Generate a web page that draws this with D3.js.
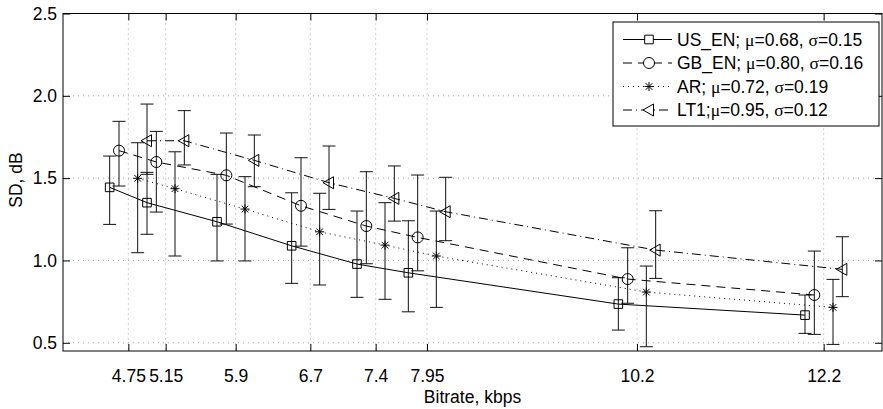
<!DOCTYPE html>
<html lang="en">
  <head>
    <meta charset="UTF-8" />
    <title>SD vs bitrate</title>
    <script src="https://d3js.org/d3.v7.min.js"></script>
    <style>
      body { margin: 0; background: #fff; }
      svg { display: block; font-family: "Liberation Sans", Arial, sans-serif; }
    </style>
  </head>
  <body>
    <svg width="883" height="409"></svg>
    <script>
      // bitrates (kbps) and the y ticks
      let bitrates = [4.75, 5.15, 5.9, 6.7, 7.4, 7.95, 10.2, 12.2];
      let yTicks = [0.5, 1.0, 1.5, 2.0, 2.5];

      // mean SD per bitrate, with lower / upper ends of the error bars
      let usEn = [1.444, 1.351, 1.235, 1.089, 0.978, 0.925, 0.735, 0.668];
      let usEnLo = [1.219, 1.159, 0.997, 0.861, 0.776, 0.688, 0.577, 0.557];
      let usEnHi = [1.634, 1.535, 1.523, 1.411, 1.3, 1.241, 0.895, 0.79];

      let gbEn = [1.667, 1.598, 1.517, 1.332, 1.209, 1.14, 0.887, 0.79];
      let gbEnLo = [1.452, 1.294, 1.221, 1.087, 0.98, 0.937, 0.74, 0.551];
      let gbEnHi = [1.845, 1.784, 1.774, 1.624, 1.539, 1.519, 1.077, 1.057];

      let ar = [1.499, 1.436, 1.312, 1.174, 1.093, 1.027, 0.808, 0.715];
      let arLo = [1.047, 1.027, 0.997, 0.851, 0.764, 0.715, 0.476, 0.49];
      let arHi = [1.715, 1.66, 1.509, 1.408, 1.351, 1.3, 0.966, 0.885];

      let lt1 = [1.727, 1.727, 1.608, 1.472, 1.377, 1.296, 1.063, 0.946];
      let lt1Lo = [1.523, 1.58, 1.448, 1.31, 1.239, 1.12, 0.891, 0.78];
      let lt1Hi = [1.95, 1.91, 1.762, 1.695, 1.574, 1.505, 1.302, 1.144];

      // legend text: name, mu, sigma
      let names = ["US_EN; ", "GB_EN; ", "AR; ", "LT1;"];
      let mus = ["0.68", "0.80", "0.72", "0.95"];
      let sigmas = ["0.15", "0.16", "0.19", "0.12"];

      let svg = d3.select("svg");

      let x = d3.scaleLinear().domain([4.05, 12.825]).range([63, 882]);
      let y = d3.scaleLinear().domain([0.45, 2.5]).range([351, 13.5]);

      // series styling (offset keeps the error bars apart along x)
      let series = [
        { v: usEn, lo: usEnLo, hi: usEnHi, dx: -0.2, dash: null, marker: "square" },
        { v: gbEn, lo: gbEnLo, hi: gbEnHi, dx: -0.1, dash: "9,6", marker: "circle" },
        { v: ar, lo: arLo, hi: arHi, dx: 0.1, dash: "1,4", marker: "star" },
        { v: lt1, lo: lt1Lo, hi: lt1Hi, dx: 0.2, dash: "9,4,1,4", marker: "tri" },
      ];

      let markerPath = {
        square: "M-4.3,-4.3H4.3V4.3H-4.3Z",
        circle: d3.symbol().type(d3.symbolCircle).size(Math.PI * 5.5 * 5.5)(),
        star: "M-4.5,0H4.5M0,-4.5V4.5M-3.3,-3.3L3.3,3.3M-3.3,3.3L3.3,-3.3",
        tri: "M-6,0L4.5,-6L4.5,6Z",
      };

      // grid
      let grid = svg.append("g").attr("stroke", "#888").attr("stroke-width", 0.8)
        .attr("stroke-dasharray", "1,4");
      grid.selectAll("line.gx").data(bitrates).enter().append("line")
        .attr("x1", (d) => x(d)).attr("x2", (d) => x(d))
        .attr("y1", y.range()[1]).attr("y2", y.range()[0]);
      grid.selectAll("line.gy").data(yTicks.slice(0, -1)).enter().append("line")
        .attr("y1", (d) => y(d)).attr("y2", (d) => y(d))
        .attr("x1", x.range()[0]).attr("x2", x.range()[1]);

      // axes (inside ticks on all four sides)
      let fmt = d3.format(".1f");
      let ax = svg.append("g").attr("transform", `translate(0,${y.range()[0]})`)
        .call(d3.axisBottom(x).tickValues(bitrates).tickSize(-7).tickPadding(19)
          .tickFormat((d) => d));
      let ay = svg.append("g").attr("transform", `translate(${x.range()[0]},0)`)
        .call(d3.axisLeft(y).tickValues(yTicks).tickSize(-7).tickPadding(6).tickFormat(fmt));
      let at = svg.append("g").attr("transform", `translate(0,${y.range()[1]})`)
        .call(d3.axisTop(x).tickValues(bitrates).tickSize(-7).tickFormat(""));
      let ar2 = svg.append("g").attr("transform", `translate(${x.range()[1]},0)`)
        .call(d3.axisRight(y).tickValues(yTicks).tickSize(-7).tickFormat(""));
      [ax, ay, at, ar2].forEach((g) => {
        g.select(".domain").remove();
        g.selectAll("text").attr("font-size", 17.5).attr("fill", "#000")
          .attr("font-family", "Liberation Sans, Arial, sans-serif");
        g.selectAll("line").attr("stroke", "#000");
      });
      svg.append("rect")
        .attr("x", x.range()[0]).attr("y", y.range()[1])
        .attr("width", x.range()[1] - x.range()[0])
        .attr("height", y.range()[0] - y.range()[1])
        .attr("fill", "none").attr("stroke", "#000").attr("stroke-width", 1);

      // data
      let line = d3.line().x((d) => x(d[0])).y((d) => y(d[1]));
      series.forEach((s) => {
        let g = svg.append("g");
        let pts = bitrates.map((b, i) => [b + s.dx, s.v[i], s.lo[i], s.hi[i]]);
        g.append("path").datum(pts).attr("d", line)
          .attr("fill", "none").attr("stroke", "#000").attr("stroke-width", 1)
          .attr("stroke-dasharray", s.dash);
        let eb = g.selectAll("g.eb").data(pts).enter().append("g")
          .attr("stroke", "#111").attr("stroke-width", 1).attr("fill", "none");
        eb.append("line").attr("x1", (d) => x(d[0])).attr("x2", (d) => x(d[0]))
          .attr("y1", (d) => y(d[2])).attr("y2", (d) => y(d[3]));
        eb.append("line").attr("x1", (d) => x(d[0]) - 6.5).attr("x2", (d) => x(d[0]) + 6.5)
          .attr("y1", (d) => y(d[2])).attr("y2", (d) => y(d[2]));
        eb.append("line").attr("x1", (d) => x(d[0]) - 6.5).attr("x2", (d) => x(d[0]) + 6.5)
          .attr("y1", (d) => y(d[3])).attr("y2", (d) => y(d[3]));
        g.selectAll("path.m").data(pts).enter().append("path")
          .attr("transform", (d) => `translate(${x(d[0])},${y(d[1])})`)
          .attr("d", markerPath[s.marker])
          .attr("fill", "none").attr("stroke", "#000").attr("stroke-width", 1);
      });

      // axis labels
      svg.append("text").attr("x", (x.range()[0] + x.range()[1]) / 2).attr("y", 403)
        .attr("text-anchor", "middle").attr("font-size", 17.5).text("Bitrate, kbps");
      svg.append("text").attr("transform", "translate(22,180) rotate(-90)")
        .attr("text-anchor", "middle").attr("font-size", 17.5).text("SD, dB");

      // legend
      let leg = svg.append("g");
      leg.append("rect").attr("x", 613).attr("y", 22).attr("width", 266).attr("height", 104)
        .attr("fill", "#fff").attr("stroke", "#000").attr("stroke-width", 1);
      series.forEach((s, i) => {
        let ly = 39.5 + i * 23.5;
        leg.append("line").attr("x1", 623).attr("x2", 672).attr("y1", ly).attr("y2", ly)
          .attr("stroke", "#000").attr("stroke-dasharray", s.dash);
        leg.append("path").attr("transform", `translate(649,${ly})`)
          .attr("d", markerPath[s.marker]).attr("fill", s.marker === "star" ? "none" : "#fff")
          .attr("stroke", "#000");
        let t = leg.append("text").attr("x", 677).attr("y", ly).attr("dy", "0.36em")
          .attr("font-size", 17.5);
        t.append("tspan").text(names[i]);
        t.append("tspan").attr("font-family", "Liberation Serif, serif").text("μ");
        t.append("tspan").text("=" + mus[i] + ", ");
        t.append("tspan").attr("font-family", "Liberation Serif, serif").text("σ");
        t.append("tspan").text("=" + sigmas[i]);
      });
    </script>
  </body>
</html>
